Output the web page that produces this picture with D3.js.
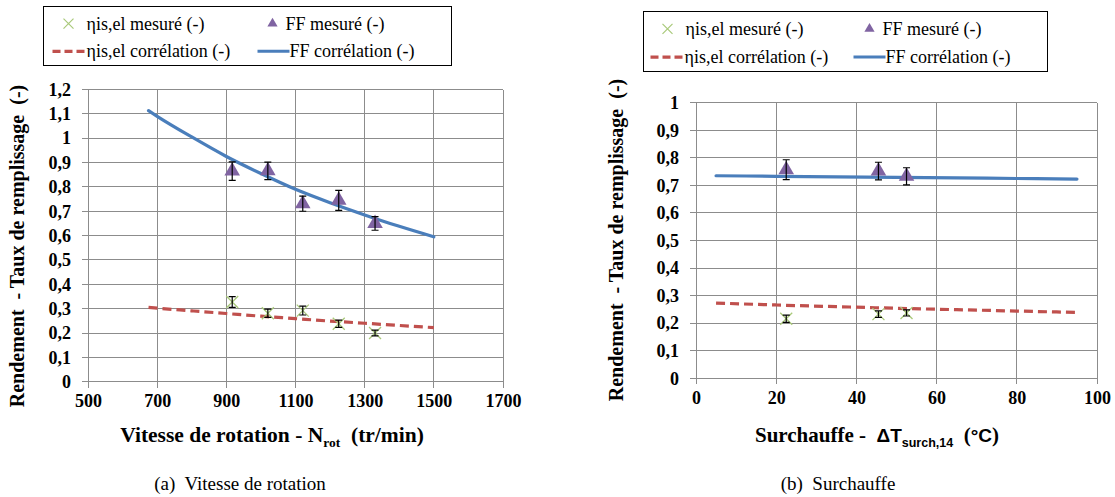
<!DOCTYPE html>
<html><head><meta charset="utf-8">
<script src="https://cdn.jsdelivr.net/npm/d3@7"></script>
<style>
body{margin:0;background:#fff;}
svg text{white-space:pre;}
</style></head>
<body><svg id="c" width="1115" height="497"></svg>
<script>
// ---------- Data: chart (a) ----------
const nRotMeas = [917, 1020, 1121, 1225, 1330];
const ffMeasA = [0.865, 0.866, 0.731, 0.745, 0.650];
const ffErrA = [0.038, 0.036, 0.031, 0.041, 0.028];
const etaMeasA = [0.327, 0.281, 0.292, 0.238, 0.200];
const etaErrA = [0.022, 0.017, 0.018, 0.015, 0.012];
const nRotCorr = [675, 700, 800, 900, 1000, 1100, 1200, 1300, 1400, 1500];
const ffCorrA = [1.113, 1.090, 1.005, 0.925, 0.855, 0.790, 0.735, 0.685, 0.638, 0.595];
const etaCorrA = [0.305, 0.302, 0.291, 0.280, 0.269, 0.259, 0.249, 0.240, 0.231, 0.222];
const xTicksA = [500, 700, 900, 1100, 1300, 1500, 1700];
const yTicksA = [0, 0.1, 0.2, 0.3, 0.4, 0.5, 0.6, 0.7, 0.8, 0.9, 1, 1.1, 1.2];

// ---------- Data: chart (b) ----------
const dtMeas = [22.5, 45.5, 52.5];
const ffMeasB = [0.757, 0.752, 0.733];
const ffErrB = [0.036, 0.032, 0.031];
const etaMeasB = [0.216, 0.233, 0.237];
const etaErrB = [0.013, 0.012, 0.011];
const dtCorr = [5, 20, 35, 50, 65, 80, 95];
const ffCorrB = [0.735, 0.733, 0.731, 0.729, 0.727, 0.725, 0.723];
const etaCorrB = [0.273, 0.266, 0.260, 0.254, 0.249, 0.244, 0.239];
const xTicksB = [0, 20, 40, 60, 80, 100];
const yTicksB = [0, 0.1, 0.2, 0.3, 0.4, 0.5, 0.6, 0.7, 0.8, 0.9, 1];

const legendLabels = ["ηis,el mesuré (-)", "FF mesuré (-)", "ηis,el corrélation (-)", "FF corrélation (-)"];
const yTitle = "Rendement  - Taux de remplissage  (-)";

const C = {blue:"#4a7ebb", red:"#c0504d", purple:"#8064a2", green:"#a9c97a", grid:"#8c8c8c"};
const serif = "Liberation Serif";
const sans = "Liberation Sans";
const fmt = v => String(+v.toFixed(1)).replace(".", ",");

const svg = d3.select("#c");

function chart(o){
  const g = svg.append("g");
  const x = d3.scaleLinear().domain(o.xd).range([o.l, o.r]);
  const y = d3.scaleLinear().domain(o.yd).range([o.b, o.t]);
  // grid
  g.selectAll(".gx").data(o.xt).enter().append("line")
    .attr("x1", d=>x(d)).attr("x2", d=>x(d)).attr("y1", o.t).attr("y2", o.b+6)
    .attr("stroke", C.grid).attr("stroke-width", 1).attr("shape-rendering","crispEdges");
  g.selectAll(".gy").data(o.yt).enter().append("line")
    .attr("y1", d=>y(d)).attr("y2", d=>y(d)).attr("x1", o.l-6).attr("x2", o.r)
    .attr("stroke", C.grid).attr("stroke-width", 1).attr("shape-rendering","crispEdges");
  // axes via d3
  const ax = g.append("g").attr("transform", `translate(0,${o.b})`)
    .call(d3.axisBottom(x).tickValues(o.xt).tickSize(0).tickPadding(13).tickFormat(d=>d));
  ax.select(".domain").remove();
  ax.attr("font-family", serif).attr("font-size", 18).attr("font-weight","bold");
  ax.selectAll("text").attr("fill","#000");
  const ay = g.append("g").attr("transform", `translate(${o.l},0)`)
    .call(d3.axisLeft(y).tickValues(o.yt).tickSize(0).tickPadding(17).tickFormat(fmt));
  ay.select(".domain").remove();
  ay.attr("font-family", serif).attr("font-size", 18).attr("font-weight","bold");
  ay.selectAll("text").attr("fill","#000");

  const line = d3.line().x((d,i)=>x(o.xc[i])).y(d=>y(d)).curve(d3.curveMonotoneX);
  g.append("path").attr("d", line(o.ffc)).attr("fill","none").attr("stroke", C.blue).attr("stroke-width", 3.2).attr("stroke-linecap","round");
  g.append("path").attr("d", line(o.etac)).attr("fill","none").attr("stroke", C.red).attr("stroke-width", 3.2).attr("stroke-dasharray","9,5");

  // crosses (eta)
  o.xm.forEach((xv,i)=>{
    const cx = x(xv), cy = y(o.eta[i]), s = 6;
    g.append("path").attr("d", `M${cx-s},${cy-s}L${cx+s},${cy+s}M${cx-s},${cy+s}L${cx+s},${cy-s}`)
      .attr("stroke", C.green).attr("stroke-width", 1.3).attr("fill","none");
  });
  // triangles (FF)
  o.xm.forEach((xv,i)=>{
    const cx = x(xv), cy = y(o.ff[i]);
    g.append("path").attr("d", d3.symbol(d3.symbolTriangle, 105)()).attr("transform", `translate(${cx},${cy})`)
      .attr("fill", C.purple);
  });
  // error bars
  function err(vals, errs){
    o.xm.forEach((xv,i)=>{
      const cx = x(xv), y1 = y(vals[i]+errs[i]), y2 = y(vals[i]-errs[i]);
      g.append("path").attr("d", `M${cx},${y1}L${cx},${y2}M${cx-3.5},${y1}L${cx+3.5},${y1}M${cx-3.5},${y2}L${cx+3.5},${y2}`)
        .attr("stroke","#000").attr("stroke-width",1.2).attr("fill","none");
    });
  }
  err(o.ff, o.fferr); err(o.eta, o.etaerr);

  // y title
  g.append("text").attr("transform", `translate(${o.ytx},${o.yty}) rotate(-90)`)
    .attr("text-anchor","middle").attr("font-family", serif).attr("font-weight","bold").attr("font-size", 20)
    .text(yTitle);

  // legend
  const L = o.leg;
  g.append("rect").attr("x", L.x).attr("y", L.y).attr("width", L.w).attr("height", L.h)
    .attr("fill","#fff").attr("stroke","#000").attr("stroke-width",1).attr("shape-rendering","crispEdges");
  const lt = (tx, ty, s) => g.append("text").attr("x", tx).attr("y", ty).attr("font-family", serif).attr("font-size", 18).text(s);
  const r1 = L.y + L.h*0.29, r2 = L.y + L.h*0.76;
  // row1
  { const cx = L.x + L.c1, s=5;
    g.append("path").attr("d", `M${cx-s},${r1-s}L${cx+s},${r1+s}M${cx-s},${r1+s}L${cx+s},${r1-s}`).attr("stroke", C.green).attr("stroke-width",1.2);
    lt(cx+18, r1+6, legendLabels[0]);
    const tx = L.x + L.c2;
    g.append("path").attr("d", d3.symbol(d3.symbolTriangle, 45)()).attr("transform", `translate(${tx},${r1})`).attr("fill", C.purple);
    lt(tx+13, r1+6, legendLabels[1]);
  }
  // row2
  { const x0 = L.x + L.d1;
    g.append("line").attr("x1", x0).attr("x2", x0+33).attr("y1", r2).attr("y2", r2).attr("stroke", C.red).attr("stroke-width",3.2).attr("stroke-dasharray","8,4");
    lt(x0+34, r2+6, legendLabels[2]);
    const x1 = L.x + L.d2;
    g.append("line").attr("x1", x1).attr("x2", x1+32).attr("y1", r2).attr("y2", r2).attr("stroke", C.blue).attr("stroke-width",3);
    lt(x1+32, r2+6, legendLabels[3]);
  }
  return {g, x, y};
}

const A = chart({xd:[500,1700], yd:[0,1.2], l:88, r:503, t:89.5, b:381.7, xt:xTicksA, yt:yTicksA,
  xm:nRotMeas, ff:ffMeasA, fferr:ffErrA, eta:etaMeasA, etaerr:etaErrA,
  xc:nRotCorr, ffc:ffCorrA, etac:etaCorrA, ytx:24, yty:246,
  leg:{x:43.5, y:6.5, w:408, h:59, c1:25, c2:229, d1:9, d2:214}});

const B = chart({xd:[0,100], yd:[0,1], l:696, r:1097, t:102.7, b:378.3, xt:xTicksB, yt:yTicksB,
  xm:dtMeas, ff:ffMeasB, fferr:ffErrB, eta:etaMeasB, etaerr:etaErrB,
  xc:dtCorr, ffc:ffCorrB, etac:etaCorrB, ytx:623, yty:240,
  leg:{x:643.5, y:11.5, w:404, h:60, c1:24, c2:226, d1:7, d2:210}});

// x titles
const tA = svg.append("text").attr("x", 272).attr("y", 442).attr("text-anchor","middle")
  .attr("font-family", serif).attr("font-weight","bold").attr("font-size", 21.5);
tA.append("tspan").text("Vitesse de rotation - N");
tA.append("tspan").attr("font-size", 13.5).attr("dy", 5).text("rot");
tA.append("tspan").attr("dy", -5).text("  (tr/min)");

const tB = svg.append("text").attr("x", 877).attr("y", 442).attr("text-anchor","middle")
  .attr("font-family", serif).attr("font-weight","bold").attr("font-size", 21);
tB.append("tspan").text("Surchauffe -  ");
tB.append("tspan").attr("font-family", sans).attr("font-size", 19).text("ΔT");
tB.append("tspan").attr("font-family", sans).attr("font-size", 12.5).attr("dy", 5).text("surch,14");
tB.append("tspan").attr("dy", -5).text("  (");
tB.append("tspan").attr("font-family", sans).attr("font-size", 19).text("°C");
tB.append("tspan").text(")");

// captions
svg.append("text").attr("x", 240).attr("y", 490).attr("text-anchor","middle")
  .attr("font-family", serif).attr("font-size", 19).text("(a)  Vitesse de rotation");
svg.append("text").attr("x", 838).attr("y", 490).attr("text-anchor","middle")
  .attr("font-family", serif).attr("font-size", 19).text("(b)  Surchauffe");
</script></body></html>
